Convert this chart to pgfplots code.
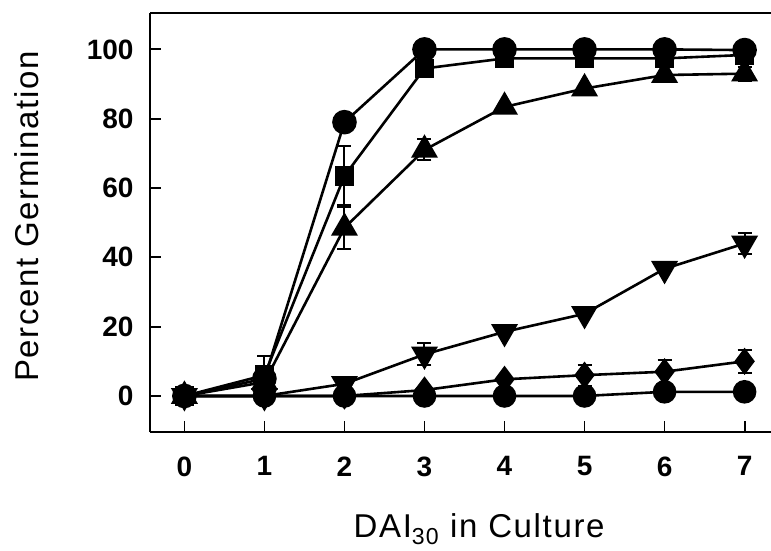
\documentclass[border=0pt]{standalone}
\usepackage{fontspec}
\setmainfont{Liberation Sans}
\usepackage{pgfplots}
\pgfplotsset{compat=1.18}
\begin{document}
\begin{tikzpicture}
\begin{axis}[
  at={(150pt,118pt)}, anchor=south west,
  scale only axis, width=621pt, height=419pt,
  xmin=-0.43, xmax=7.33, ymin=-10.4, ymax=110.5,
  axis x line=box, axis y line=left,
  axis line style={line width=2.2pt, -},
  xtick={0,...,7}, ytick={0,20,...,100},
  xtick pos=left, ytick pos=left,
  tick align=inside,
  major tick length=11pt,
  tick style={line width=1.8pt, black},
  /pgf/number format/assume math mode=true,
  ticklabel style={font=\bfseries\fontsize{28}{28}\selectfont},
  xticklabel style={yshift=-21pt},
  yticklabel style={xshift=-13pt},
  xlabel={DAI\textsubscript{30} in Culture},
  ylabel={Percent Germination},
  xlabel style={at={(axis description cs:0.53,-0.251)}, anchor=base, font=\fontsize{33}{33}\selectfont\addfontfeatures{LetterSpace=5}},
  ylabel style={at={(axis description cs:-0.198,0.514)}, anchor=center, rotate=0, font=\fontsize{33}{33}\selectfont\addfontfeatures{LetterSpace=5}},
  every axis plot/.append style={black, line width=2.6pt, mark options={solid, fill=black, draw=black}},
  error bars/y dir=both, error bars/y explicit,
  error bars/error bar style={line width=2pt, black},
  error bars/error mark options={line width=2pt, mark size=7pt, black, rotate=90},
  clip=false,
]
% bottom circle
\addplot[mark=*, mark size=10.5pt] coordinates {(0,0) (1,0) (2,0) (3,0) (4,0) (5,0) (6,1.2) (7,1.2)};
% diamond
\addplot[mark=diamond*, mark size=11.5pt] coordinates {(0,0) (1,0) (2,0) (3,1.7) (4,4.8) (5,6) +- (0,3) (6,7) +- (0,3.5) (7,10) +- (0,3.3)};
% down triangle
\addplot[mark=triangle*, mark size=13pt, mark options={rotate=180}] coordinates {(0,0) (1,0) (2,3.5) (3,12) +- (0,3.2) (4,18.5) (5,23.7) (6,36.7) (7,44) +- (0,3)};
% up triangle
\addplot[mark=triangle*, mark size=13pt] coordinates {(0,0) (1,4) (2,48.5) +- (0,6) (3,71) +- (0,3) (4,83.4) (5,88.7) (6,92.6) (7,93) +- (0,2)};
% square
\addplot[mark=square*, mark size=8.5pt] coordinates {(0,0) (1,6) +- (0,5.5) (2,63.5) +- (0,8.5) (3,94.5) (4,97.4) (5,97.4) (6,97.4) (7,98.4)};
% top circle
\addplot[mark=*, mark size=11pt] coordinates {(0,0) (1,5) (2,79) +- (0,2) (3,100) (4,100) (5,100) (6,100) (7,99.8)};
\end{axis}
\pgfresetboundingbox
\path (0,0) rectangle (771pt,550pt);
\end{tikzpicture}
\end{document}
